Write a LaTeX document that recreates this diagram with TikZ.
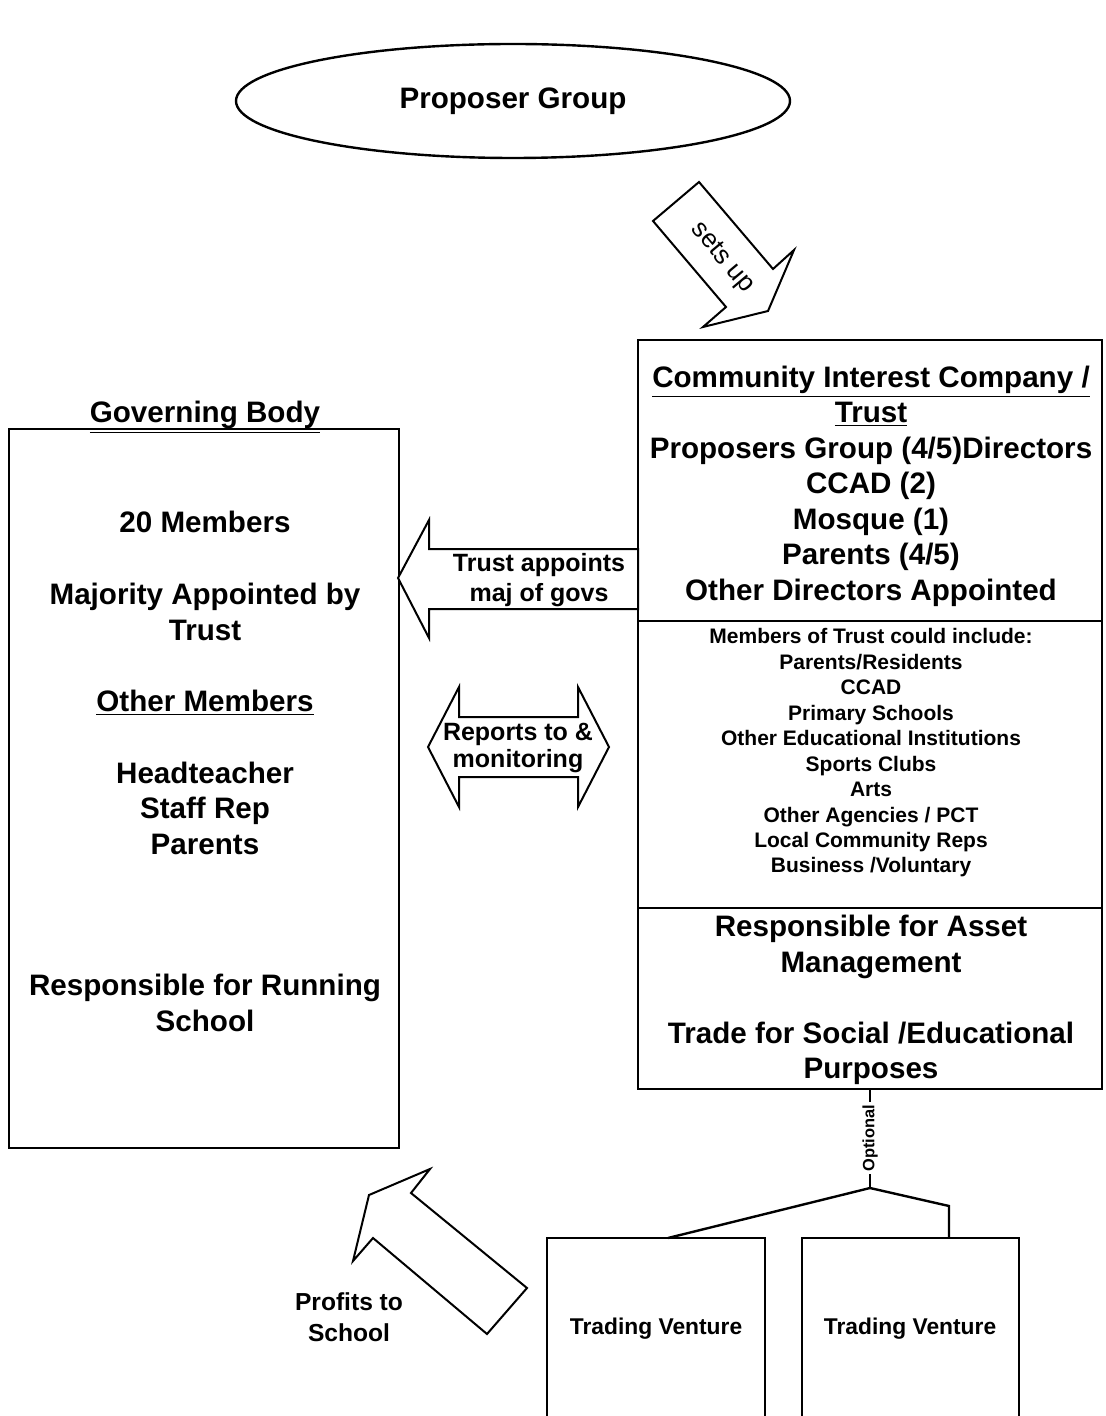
\documentclass[tikz,border=0pt]{standalone}
\usepackage{fontspec}
\setmainfont{Liberation Sans}
\usetikzlibrary{shapes.geometric}

\tikzset{
  panel/.style={draw, line width=1.2pt, inner sep=0pt, outer sep=0pt, anchor=north west},
  bigtext/.style={font=\fontsize{14.8}{17.75}\selectfont\bfseries, align=center},
  listtext/.style={font=\fontsize{10.5}{12.72}\selectfont\bfseries, align=center},
  arrowtext/.style={font=\fontsize{12.5}{15}\selectfont\bfseries, align=center},
  tvtext/.style={font=\fontsize{11.4}{13.5}\selectfont\bfseries},
  blockarrow/.style={draw, line width=1pt, fill=white, line join=miter},
  link/.style={draw, line width=1.2pt}
}

\begin{document}
\begin{tikzpicture}[x=0.5pt, y=-0.5pt]
   \useasboundingbox (0,0) rectangle (1106,1416);
   \clip (0,0) rectangle (1106,1416);

   \node[ellipse, draw, line width=1.2pt, inner sep=0pt, minimum width=277pt, minimum height=57pt, bigtext] (proposer) at (513,101) {Proposer Group};

   \draw[blockarrow] (699,182) -- (653,221) -- (726,307) -- (703,327) -- (768,311) -- (794,250) -- (773,269) -- cycle;
   \node[font=\fontsize{13}{15}\selectfont, rotate=-50, inner sep=0pt] (setsup) at (722,258) {sets up};

   \node[panel, minimum width=195pt, minimum height=359.5pt] (gov) at (9,429) {};
   \node[bigtext, anchor=base] (govtitle) at (205,423) {\underline{Governing Body}};
   \node[bigtext] (govsize) at (205,522) {20 Members};
   \node[bigtext] (majority) at (205,612) {Majority Appointed by\\Trust};
   \node[bigtext] (othertitle) at (205,703) {\underline{Other Members}};
   \node[bigtext] (others) at (205,808) {Headteacher\\Staff Rep\\Parents};
   \node[bigtext] (running) at (205,1003) {Responsible for Running\\School};

   \node[panel, minimum width=232pt, minimum height=374.5pt] (cic) at (638,340) {};
   \draw[link] (638,621) -- (1102,621);
   \draw[link] (638,908) -- (1102,908);
   \node[bigtext] (directors) at (871,486) {\underline{Community Interest Company /}\\\underline{Trust}\\Proposers Group (4/5)Directors\\CCAD (2)\\Mosque (1)\\Parents (4/5)\\Other Directors Appointed};
   \node[listtext] (trustees) at (871,753) {Members of Trust could include:\\Parents/Residents\\CCAD\\Primary Schools\\Other Educational Institutions\\Sports Clubs\\Arts\\Other Agencies / PCT\\Local Community Reps\\Business /Voluntary};
   \node[bigtext] (assets) at (871,1000) {Responsible for Asset\\Management\\[17.75pt]Trade for Social /Educational\\Purposes};

   \draw[blockarrow] (638,549) -- (429,549) -- (429,520) -- (398,578) -- (429,638) -- (429,609) -- (638,609) -- cycle;
   \node[arrowtext] (appoints) at (539,580) {Trust appoints\\maj of govs};

   \draw[blockarrow] (428,747) -- (459,687) -- (459,717) -- (578,717) -- (578,687) -- (609,747) -- (578,807) -- (578,777) -- (459,777) -- (459,807) -- cycle;
   \node[arrowtext, font=\fontsize{12.5}{13.5}\selectfont\bfseries] (reports) at (518,748) {Reports to \&\\monitoring};

   \draw[blockarrow] (487,1334) -- (373,1238) -- (353,1261) -- (369,1195) -- (430,1169) -- (411,1193) -- (527,1288) -- cycle;
   \node[arrowtext, font=\fontsize{12.3}{15.5}\selectfont\bfseries] (profits) at (349,1317) {Profits to\\School};

   \node[panel, minimum width=109pt, minimum height=110pt] (tv1) at (547,1238) {};
   \node[panel, minimum width=108.5pt, minimum height=110pt] (tv2) at (802,1238) {};
   \node[tvtext] (tv1text) at (656,1329) {Trading Venture};
   \node[tvtext] (tv2text) at (910,1329) {Trading Venture};

   \coordinate (fork) at (870,1188);
   \coordinate (tv1leg) at ([xshift=6pt]tv1.north);
   \coordinate (tv2leg) at ([xshift=19.25pt]tv2.north);
   \draw[link] (cic.south) -- (fork);
   \draw[link] (fork) -- (tv1leg);
   \draw[link] (fork) -- ++(79,18) -- (tv2leg);
   \node[font=\fontsize{8.2}{9}\selectfont\bfseries, rotate=90, fill=white, inner sep=1.5pt] (optional) at (870,1138) {Optional};
\end{tikzpicture}
\end{document}
